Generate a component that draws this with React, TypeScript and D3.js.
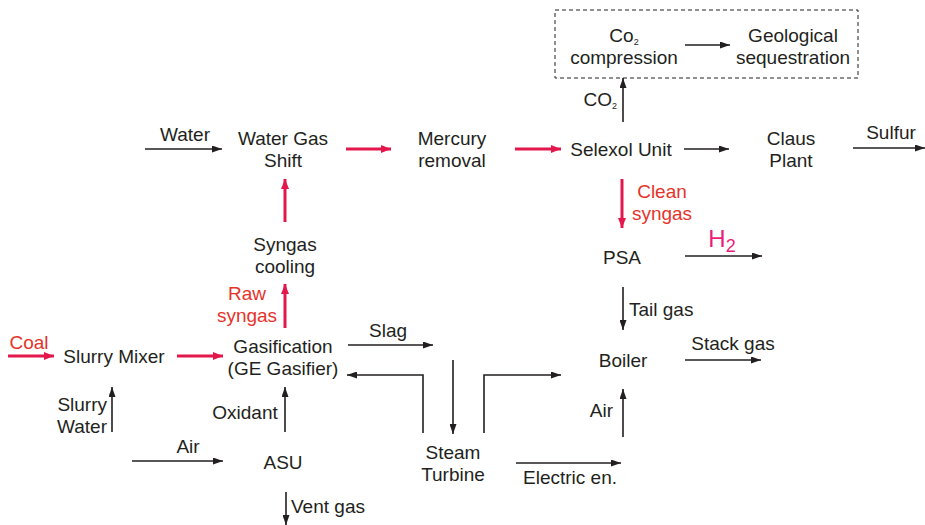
import { useEffect, useRef } from "react";
import * as d3 from "d3";

// label lines: "_" prefix marks a subscript piece, split by "|"
const nodeLabels = [
  "Co|_2\ncompression",
  "Geological\nsequestration",
  "CO|_2",
  "Water",
  "Water Gas\nShift",
  "Mercury\nremoval",
  "Selexol Unit",
  "Claus\nPlant",
  "Sulfur",
  "Clean\nsyngas",
  "PSA",
  "H|_2",
  "Tail gas",
  "Boiler",
  "Stack gas",
  "Air",
  "Electric en.",
  "Steam\nTurbine",
  "Slag",
  "Gasification\n(GE Gasifier)",
  "Raw\nsyngas",
  "Syngas\ncooling",
  "Coal",
  "Slurry Mixer",
  "Slurry\nWater",
  "Oxidant",
  "Air",
  "ASU",
  "Vent gas",
];
const nodeX = [624, 793, 617, 185, 283, 452, 621, 791, 891, 662, 622, 722, 629, 623, 733, 613, 570, 453, 388, 283, 247, 285, 29, 114, 107, 245, 188, 283, 291];
const nodeY = [46, 46, 99, 134, 149, 149, 149, 149, 132, 202, 257, 238, 309, 360, 343, 410, 477, 463, 330, 357, 304, 255, 342, 356, 415, 412, 446, 462, 506];
const nodeAnchor = ["m", "m", "e", "m", "m", "m", "m", "m", "m", "m", "m", "m", "s", "m", "m", "e", "m", "m", "m", "m", "m", "m", "m", "m", "e", "m", "m", "m", "s"];
const nodeKind = ["n", "n", "n", "n", "n", "n", "n", "n", "n", "red", "n", "h2", "n", "n", "n", "n", "n", "n", "n", "n", "red", "n", "red", "n", "n", "n", "n", "n", "n"];

// arrows as polylines, kind: main (red thick) or side (black thin)
const arrowPaths: [number, number][][] = [
  [[685, 45], [730, 45]],
  [[623, 122], [623, 78]],
  [[145, 149], [222, 149]],
  [[346, 149], [391, 149]],
  [[515, 149], [561, 149]],
  [[684, 149], [729, 149]],
  [[853, 148], [925, 148]],
  [[622, 179], [622, 228]],
  [[685, 256], [762, 256]],
  [[623, 287], [623, 330]],
  [[685, 360], [761, 360]],
  [[623, 437], [623, 389]],
  [[516, 463], [621, 463]],
  [[453, 360], [453, 434]],
  [[484, 433], [484, 375], [561, 375]],
  [[423, 433], [423, 375], [347, 375]],
  [[348, 345], [433, 345]],
  [[285, 328], [285, 284]],
  [[285, 222], [285, 179]],
  [[8, 356], [54, 356]],
  [[177, 356], [223, 356]],
  [[112, 432], [112, 387]],
  [[285, 432], [285, 387]],
  [[132, 461], [223, 461]],
  [[286, 492], [286, 525]],
];
const arrowKind = ["s", "s", "s", "m", "m", "s", "s", "m", "s", "s", "s", "s", "s", "s", "s", "s", "s", "m", "m", "m", "m", "s", "s", "s", "s"];

const boxX = [555, 858];
const boxY = [10, 78];

const W = 925;
const H = 525;
const INK = "#231f20";
const RED_LINE = "#e3174b";
const RED_TEXT = "#e6332a";
const PINK = "#ec1c7c";

export default function App() {
  const ref = useRef<SVGSVGElement | null>(null);

  useEffect(() => {
    if (!ref.current) return;
    const svg = d3.select(ref.current);
    svg.selectAll("*").remove();

    const x = d3.scaleLinear([0, W], [0, W]);
    const y = d3.scaleLinear([0, H], [0, H]);

    const defs = svg.append("defs");
    const addMarker = (id: string, color: string, w: number, h: number) =>
      defs
        .append("marker")
        .attr("id", id)
        .attr("viewBox", `0 0 ${w} ${h}`)
        .attr("refX", w)
        .attr("refY", h / 2)
        .attr("markerWidth", w)
        .attr("markerHeight", h)
        .attr("markerUnits", "userSpaceOnUse")
        .attr("orient", "auto")
        .append("path")
        .attr("d", `M0,0L${w},${h / 2}L0,${h}z`)
        .attr("fill", color);
    addMarker("headS", INK, 10, 7);
    addMarker("headM", RED_LINE, 10, 8);

    svg
      .append("rect")
      .attr("x", x(boxX[0]))
      .attr("y", y(boxY[0]))
      .attr("width", x(boxX[1]) - x(boxX[0]))
      .attr("height", y(boxY[1]) - y(boxY[0]))
      .attr("fill", "none")
      .attr("stroke", INK)
      .attr("stroke-width", 1)
      .attr("stroke-dasharray", "4,3");

    const line = d3
      .line<[number, number]>()
      .x((d) => x(d[0]))
      .y((d) => y(d[1]));

    svg
      .append("g")
      .selectAll("path")
      .data(arrowPaths)
      .join("path")
      .attr("d", (d) => line(d))
      .attr("fill", "none")
      .attr("stroke", (d, i) => (arrowKind[i] === "m" ? RED_LINE : INK))
      .attr("stroke-width", (d, i) => (arrowKind[i] === "m" ? 3 : 1.6))
      .attr("marker-end", (d, i) =>
        arrowKind[i] === "m" ? "url(#headM)" : "url(#headS)"
      );

    const fs = (i: number) => (nodeKind[i] === "h2" ? 24 : 19);

    const labels = svg
      .append("g")
      .attr("font-family", "'Liberation Sans', Arial, sans-serif")
      .selectAll("text")
      .data(nodeLabels)
      .join("text")
      .attr("x", (d, i) => x(nodeX[i]))
      .attr("text-anchor", (d, i) =>
        nodeAnchor[i] === "m" ? "middle" : nodeAnchor[i] === "e" ? "end" : "start"
      )
      .attr("font-size", (d, i) => fs(i))
      .attr("fill", (d, i) =>
        nodeKind[i] === "red" ? RED_TEXT : nodeKind[i] === "h2" ? PINK : INK
      );

    labels.each(function (d, i) {
      const rows = d.split("\n");
      const t = d3.select(this);
      rows.forEach((row, r) => {
        const cy = nodeY[i] + (r - (rows.length - 1) / 2) * 22;
        row.split("|").forEach((piece, p) => {
          const sub = piece.startsWith("_");
          const ts = t.append("tspan").text(sub ? piece.slice(1) : piece);
          if (p === 0) {
            ts.attr("x", x(nodeX[i])).attr("y", y(cy) + fs(i) * 0.36);
          }
          if (sub) {
            const big = nodeKind[i] === "h2";
            ts.attr("font-size", big ? 18 : 9).attr("dy", big ? 5 : 3);
          }
        });
      });
    });
  }, []);

  return (
    <svg
      ref={ref}
      width={W}
      height={H}
      style={{ position: "absolute", left: 0, top: 0, background: "#fff" }}
    />
  );
}
